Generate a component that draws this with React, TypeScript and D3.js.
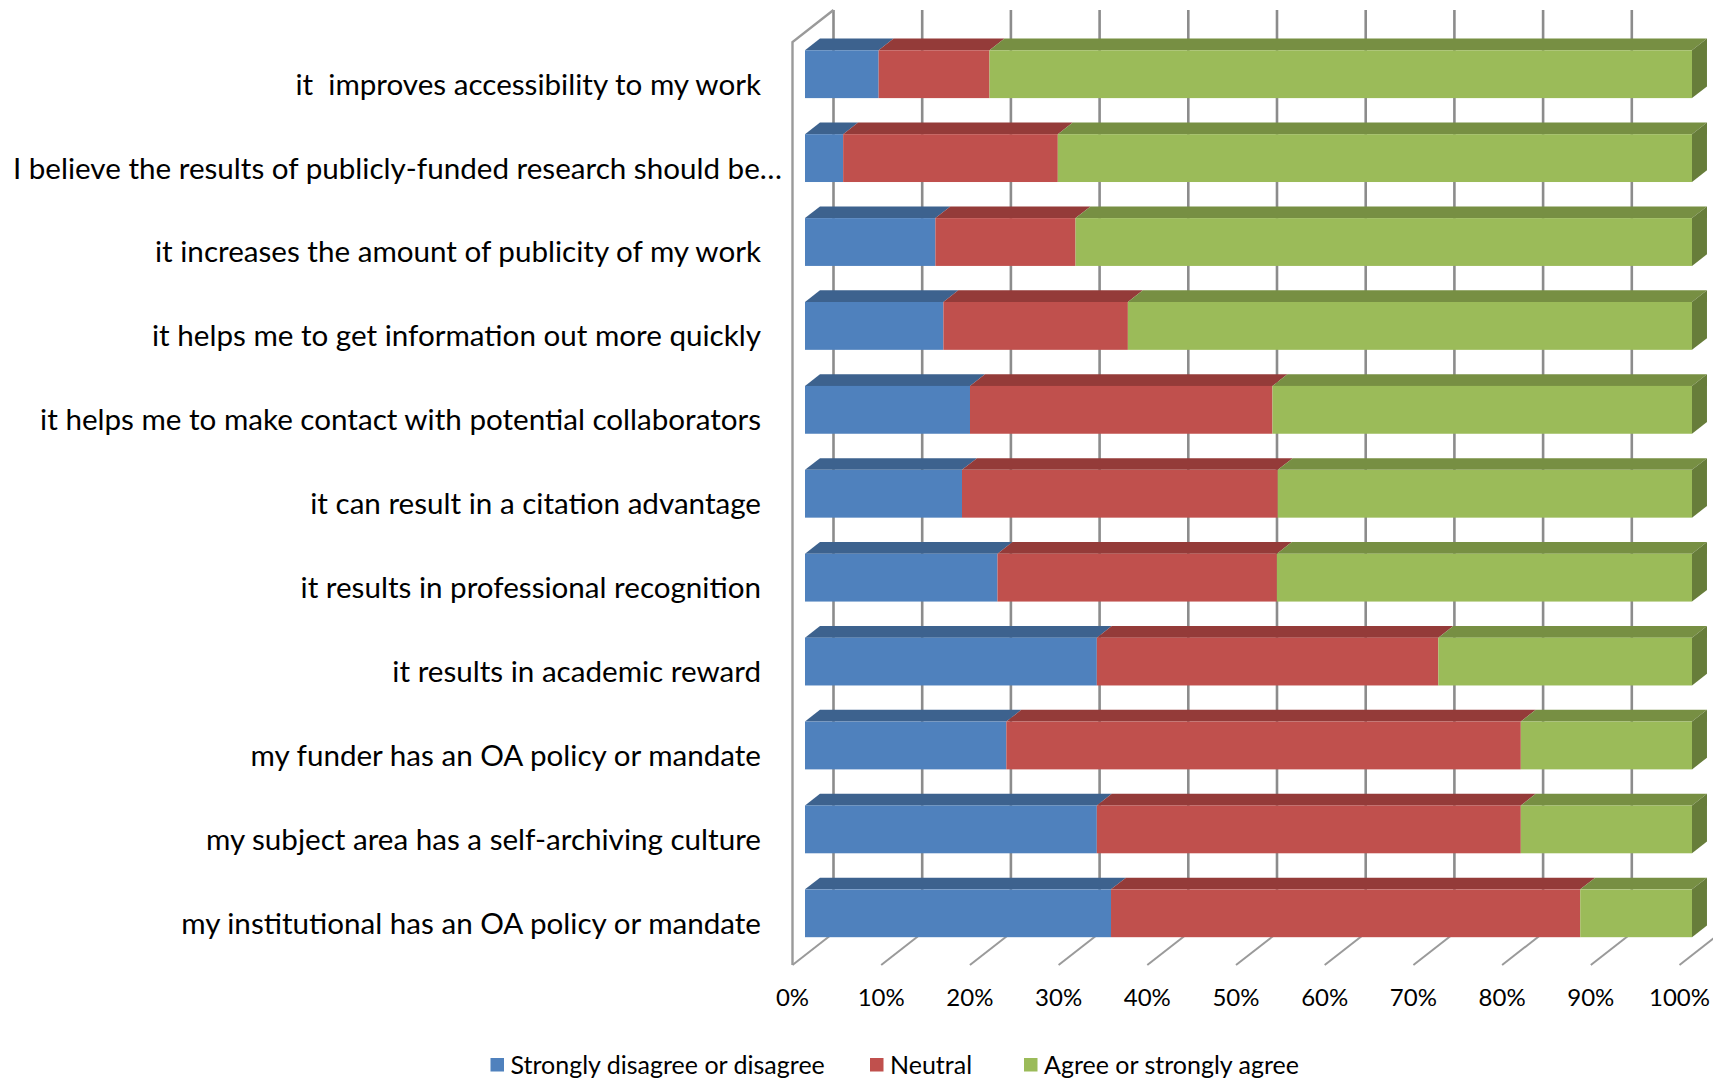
import * as d3 from "d3";

const categories = [
  "it  improves accessibility to my work",
  "I believe the results of publicly-funded research should be…",
  "it increases the amount of publicity of my work",
  "it helps me to get information out more quickly",
  "it helps me to make contact with potential collaborators",
  "it can result in a citation advantage",
  "it results in professional recognition",
  "it results in academic reward",
  "my funder has an OA policy or mandate",
  "my subject area has a self-archiving culture",
  "my institutional has an OA policy or mandate",
];

const disagree = [8.3, 4.3, 14.7, 15.6, 18.6, 17.7, 21.7, 32.9, 22.7, 32.9, 34.5];
const neutral = [12.5, 24.2, 15.8, 20.8, 34.1, 35.6, 31.5, 38.5, 58.0, 47.8, 52.9];
const agree = [79.2, 71.5, 69.5, 63.6, 47.3, 46.7, 46.8, 28.6, 19.3, 19.3, 12.6];

const seriesNames = ["Strongly disagree or disagree", "Neutral", "Agree or strongly agree"];
const ticks = [0, 10, 20, 30, 40, 50, 60, 70, 80, 90, 100];

const front = ["#4F81BD", "#C0504D", "#9BBB59"];
const topC = ["#3D628E", "#943B39", "#778F43"];
const sideC = ["#35567d", "#7f3331", "#677d3a"];

// depth of the 3D box (front plane -> back wall)
const DX = 41;
const DY = -32;
const D0 = 0.305;
const D1 = 0.67;

const FONT = "Lato, 'Open Sans', sans-serif";

const App = () => {
  const W = 1713;
  const H = 1081;
  const x = d3.scaleLinear().domain([0, 100]).range([792.5, 1679.5]);
  const y = d3
    .scaleBand()
    .domain(categories)
    .range([42, 965])
    .paddingInner(0.43)
    .paddingOuter(0.215);
  const top = 42;
  const bottom = 965;

  const stack = d3
    .stack<number>()
    .keys([0, 1, 2].map(String))
    .value((i, k) => [disagree, neutral, agree][+k][i])(d3.range(categories.length));

  const fx = D0 * DX;
  const fy = D0 * DY;
  const bdx = (D1 - D0) * DX;
  const bdy = (D1 - D0) * DY;

  return (
    <svg
      width={W}
      height={H}
      style={{ position: "absolute", left: 0, top: 0, background: "#fff" }}
    >
      {/* back wall gridlines */}
      {ticks.map((t) => (
        <line
          key={"g" + t}
          x1={x(t) + DX}
          x2={x(t) + DX}
          y1={top + DY}
          y2={bottom + DY}
          stroke="#8c8c8c"
          strokeWidth={2.6}
        />
      ))}
      {/* floor lines */}
      {ticks.map((t) => (
        <line
          key={"f" + t}
          x1={x(t)}
          x2={x(t) + DX}
          y1={bottom}
          y2={bottom + DY}
          stroke="#9a9a9a"
          strokeWidth={2}
        />
      ))}
      {/* side wall */}
      <polyline
        points={`${x(0)},${bottom} ${x(0)},${top} ${x(0) + DX},${top + DY}`}
        fill="none"
        stroke="#9a9a9a"
        strokeWidth={2.4}
      />

      {/* bars */}
      {categories.map((c, i) => {
        const yt = (y(c) as number) + fy;
        const h = y.bandwidth();
        return (
          <g key={c}>
            {stack.map((s, k) => {
              const x1 = x(s[i][0]) + fx;
              const x2 = x(s[i][1]) + fx;
              return (
                <g key={k}>
                  <polygon
                    points={`${x1},${yt} ${x2},${yt} ${x2 + bdx},${yt + bdy} ${x1 + bdx},${yt + bdy}`}
                    fill={topC[k]}
                  />
                  <rect x={x1} y={yt} width={x2 - x1} height={h} fill={front[k]} />
                  {k === 2 && (
                    <polygon
                      points={`${x2},${yt} ${x2 + bdx},${yt + bdy} ${x2 + bdx},${yt + h + bdy} ${x2},${yt + h}`}
                      fill={sideC[k]}
                    />
                  )}
                </g>
              );
            })}
          </g>
        );
      })}

      {/* category labels */}
      {categories.map((c, i) => (
        <text
          key={"l" + c}
          x={i === 1 ? 782 : 761}
          y={(y(c) as number) + y.bandwidth() / 2}
          dy="0.36em"
          textAnchor="end"
          fontFamily={FONT}
          fontSize={29.6}
          fill="#000"
          style={{ whiteSpace: "pre" }}
        >
          {c}
        </text>
      ))}

      {/* x tick labels */}
      {ticks.map((t) => (
        <text
          key={"t" + t}
          x={x(t)}
          y={998}
          dy="0.35em"
          textAnchor="middle"
          fontFamily={FONT}
          fontSize={24}
          fill="#000"
        >
          {t + "%"}
        </text>
      ))}

      {/* legend */}
      {seriesNames.map((n, k) => {
        const lx = [490.5, 870, 1024][k];
        return (
          <g key={n}>
            <rect x={lx} y={1058} width={13.5} height={13.5} fill={front[k]} />
            <text
              x={lx + 20}
              y={1065}
              dy="0.35em"
              fontFamily={FONT}
              fontSize={25}
              fill="#000"
            >
              {n}
            </text>
          </g>
        );
      })}
    </svg>
  );
};

export default App;
